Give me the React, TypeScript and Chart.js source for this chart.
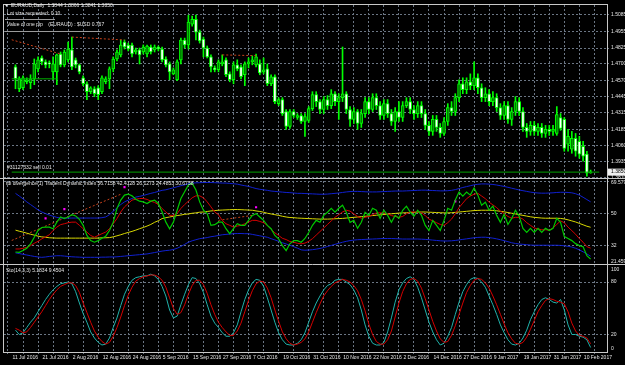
import React, { useEffect, useRef } from 'react';
import { Chart, registerables } from 'chart.js';

Chart.register(...registerables);

// ---------- tick labels ----------
const dateLabels = ['11 Jul 2016', '21 Jul 2016', '2 Aug 2016', '12 Aug 2016', '24 Aug 2016', '5 Sep 2016', '15 Sep 2016', '27 Sep 2016', '7 Oct 2016', '19 Oct 2016', '31 Oct 2016', '10 Nov 2016', '22 Nov 2016', '2 Dec 2016', '14 Dec 2016', '27 Dec 2016', '9 Jan 2017', '19 Jan 2017', '31 Jan 2017', '10 Feb 2017'];
const dateBars = [0, 8, 16, 24, 32, 40, 48, 56, 64, 72, 80, 88, 96, 104, 112, 120, 128, 136, 144, 152];
const priceTicks = [1.5085, 1.4955, 1.4825, 1.4700, 1.4570, 1.4445, 1.4315, 1.4185, 1.4060, 1.3935, 1.3810];
const tdiLevels = [68, 50, 32];
const stoLevels = [80, 20];

// ---------- EURAUD daily OHLC ----------
const opens = [
  1.4677, 1.4505, 1.4513, 1.4560, 1.4552, 1.4583, 1.4661, 1.4747, 1.4716, 1.4708,
  1.4638, 1.4638, 1.4778, 1.4693, 1.4732, 1.4810, 1.4732, 1.4693, 1.4591, 1.4544,
  1.4482, 1.4505, 1.4513, 1.4482, 1.4560, 1.4583, 1.4661, 1.4739, 1.4771, 1.4872,
  1.4849, 1.4849, 1.4794, 1.4810, 1.4794, 1.4778, 1.4833, 1.4810, 1.4833, 1.4817,
  1.4739, 1.4700, 1.4622, 1.4576, 1.4732, 1.4888, 1.4849, 1.5012, 1.5051, 1.4950,
  1.4895, 1.4825, 1.4755, 1.4669, 1.4654, 1.4700, 1.4732, 1.4622, 1.4576, 1.4693,
  1.4677, 1.4615, 1.4700, 1.4716, 1.4693, 1.4700, 1.4638, 1.4661, 1.4544, 1.4599,
  1.4388, 1.4420, 1.4326, 1.4209, 1.4326, 1.4279, 1.4295, 1.4248, 1.4256, 1.4349,
  1.4459, 1.4404, 1.4342, 1.4420, 1.4373, 1.4466, 1.4404, 1.4435, 1.4466, 1.4342,
  1.4264, 1.4326, 1.4232, 1.4310, 1.4404, 1.4342, 1.4435, 1.4373, 1.4295, 1.4388,
  1.4310, 1.4248, 1.4326, 1.4279, 1.4373, 1.4404, 1.4342, 1.4310, 1.4373, 1.4310,
  1.4217, 1.4170, 1.4264, 1.4201, 1.4154, 1.4248, 1.4357, 1.4326, 1.4435, 1.4544,
  1.4498, 1.4560, 1.4529, 1.4591, 1.4513, 1.4435, 1.4466, 1.4404, 1.4435, 1.4357,
  1.4295, 1.4373, 1.4264, 1.4326, 1.4404, 1.4326, 1.4201, 1.4170, 1.4217, 1.4170,
  1.4201, 1.4154, 1.4186, 1.4170, 1.4154, 1.4279, 1.4264, 1.4069, 1.4030, 1.4115,
  1.4092, 1.4053, 1.3991, 1.3844,
];
const highs = [
  1.4693, 1.4599, 1.4607, 1.4591, 1.4615, 1.4739, 1.4755, 1.4763, 1.4732, 1.4724,
  1.4755, 1.4778, 1.4794, 1.4810, 1.4872, 1.4911, 1.4747, 1.4700, 1.4607, 1.4560,
  1.4521, 1.4521, 1.4529, 1.4607, 1.4599, 1.4677, 1.4755, 1.4810, 1.4888, 1.4888,
  1.4864, 1.4864, 1.4825, 1.4825, 1.4849, 1.4849, 1.4849, 1.4849, 1.4841, 1.4833,
  1.4755, 1.4716, 1.4669, 1.4732, 1.4903, 1.4903, 1.5083, 1.5075, 1.5083, 1.4966,
  1.4911, 1.4841, 1.4771, 1.4685, 1.4732, 1.4771, 1.4747, 1.4638, 1.4716, 1.4732,
  1.4693, 1.4716, 1.4747, 1.4763, 1.4778, 1.4732, 1.4747, 1.4700, 1.4615, 1.4615,
  1.4435, 1.4435, 1.4342, 1.4342, 1.4342, 1.4310, 1.4310, 1.4310, 1.4365, 1.4482,
  1.4482, 1.4420, 1.4443, 1.4451, 1.4498, 1.4482, 1.4466, 1.4833, 1.4482, 1.4365,
  1.4357, 1.4342, 1.4342, 1.4435, 1.4435, 1.4466, 1.4466, 1.4404, 1.4420, 1.4420,
  1.4342, 1.4357, 1.4404, 1.4404, 1.4435, 1.4435, 1.4373, 1.4404, 1.4404, 1.4342,
  1.4248, 1.4295, 1.4295, 1.4232, 1.4279, 1.4388, 1.4404, 1.4466, 1.4576, 1.4591,
  1.4591, 1.4622, 1.4716, 1.4622, 1.4544, 1.4513, 1.4498, 1.4482, 1.4466, 1.4388,
  1.4404, 1.4404, 1.4357, 1.4443, 1.4435, 1.4357, 1.4232, 1.4248, 1.4248, 1.4232,
  1.4232, 1.4217, 1.4217, 1.4217, 1.4365, 1.4310, 1.4279, 1.4186, 1.4170, 1.4154,
  1.4131, 1.4092, 1.4014, 1.3866,
];
const lows = [
  1.4505, 1.4482, 1.4498, 1.4544, 1.4505, 1.4537, 1.4638, 1.4693, 1.4669, 1.4669,
  1.4576, 1.4537, 1.4677, 1.4677, 1.4716, 1.4654, 1.4669, 1.4622, 1.4529, 1.4420,
  1.4466, 1.4443, 1.4420, 1.4466, 1.4544, 1.4505, 1.4638, 1.4724, 1.4755, 1.4817,
  1.4802, 1.4755, 1.4778, 1.4700, 1.4778, 1.4755, 1.4778, 1.4794, 1.4802, 1.4716,
  1.4677, 1.4576, 1.4615, 1.4568, 1.4700, 1.4825, 1.4817, 1.4997, 1.4888, 1.4864,
  1.4755, 1.4747, 1.4638, 1.4638, 1.4638, 1.4685, 1.4599, 1.4560, 1.4544, 1.4646,
  1.4583, 1.4529, 1.4669, 1.4693, 1.4677, 1.4615, 1.4622, 1.4529, 1.4529, 1.4388,
  1.4373, 1.4295, 1.4186, 1.4193, 1.4279, 1.4264, 1.4232, 1.4131, 1.4240, 1.4334,
  1.4365, 1.4310, 1.4310, 1.4342, 1.4349, 1.4373, 1.4264, 1.4404, 1.4310, 1.4209,
  1.4232, 1.4186, 1.4201, 1.4279, 1.4310, 1.4326, 1.4342, 1.4264, 1.4264, 1.4279,
  1.4217, 1.4170, 1.4248, 1.4248, 1.4357, 1.4310, 1.4264, 1.4279, 1.4279, 1.4186,
  1.4139, 1.4139, 1.4170, 1.4123, 1.4139, 1.4217, 1.4295, 1.4295, 1.4404, 1.4466,
  1.4466, 1.4498, 1.4498, 1.4466, 1.4404, 1.4404, 1.4373, 1.4373, 1.4326, 1.4264,
  1.4264, 1.4232, 1.4217, 1.4295, 1.4295, 1.4170, 1.4123, 1.4139, 1.4139, 1.4139,
  1.4123, 1.4123, 1.4139, 1.4139, 1.4139, 1.4178, 1.4014, 1.4014, 1.3998, 1.3975,
  1.3959, 1.3936, 1.3819, 1.3841,
];
const closes = [
  1.4583, 1.4583, 1.4591, 1.4576, 1.4583, 1.4700, 1.4732, 1.4716, 1.4693, 1.4700,
  1.4700, 1.4771, 1.4693, 1.4794, 1.4817, 1.4677, 1.4693, 1.4638, 1.4544, 1.4482,
  1.4513, 1.4466, 1.4459, 1.4591, 1.4583, 1.4661, 1.4739, 1.4794, 1.4849, 1.4833,
  1.4817, 1.4778, 1.4810, 1.4771, 1.4833, 1.4841, 1.4794, 1.4833, 1.4817, 1.4732,
  1.4693, 1.4638, 1.4654, 1.4716, 1.4888, 1.4849, 1.5028, 1.5051, 1.4950, 1.4880,
  1.4825, 1.4755, 1.4677, 1.4654, 1.4716, 1.4716, 1.4615, 1.4576, 1.4693, 1.4661,
  1.4599, 1.4700, 1.4716, 1.4732, 1.4755, 1.4630, 1.4654, 1.4544, 1.4599, 1.4404,
  1.4420, 1.4310, 1.4209, 1.4326, 1.4295, 1.4295, 1.4248, 1.4287, 1.4349, 1.4459,
  1.4404, 1.4342, 1.4420, 1.4373, 1.4466, 1.4404, 1.4435, 1.4466, 1.4342, 1.4264,
  1.4326, 1.4232, 1.4310, 1.4404, 1.4342, 1.4435, 1.4373, 1.4295, 1.4388, 1.4310,
  1.4248, 1.4326, 1.4279, 1.4373, 1.4404, 1.4342, 1.4310, 1.4373, 1.4310, 1.4217,
  1.4170, 1.4264, 1.4201, 1.4154, 1.4248, 1.4357, 1.4326, 1.4435, 1.4544, 1.4498,
  1.4560, 1.4529, 1.4591, 1.4513, 1.4435, 1.4466, 1.4404, 1.4435, 1.4357, 1.4295,
  1.4373, 1.4264, 1.4326, 1.4404, 1.4326, 1.4201, 1.4170, 1.4217, 1.4170, 1.4201,
  1.4154, 1.4186, 1.4170, 1.4186, 1.4303, 1.4193, 1.4037, 1.4131, 1.4115, 1.4014,
  1.3991, 1.3975, 1.3842, 1.3850,
];

// ---------- Traders Dynamic Index ----------
const tdiUpper = [
  61.5, 60.0, 58.4, 56.7, 55.2, 53.7, 52.2, 51.0, 50.1, 49.3,
  48.6, 48.0, 47.6, 47.6, 47.6, 47.6, 47.6, 47.6, 47.6, 47.6,
  47.6, 47.6, 47.6, 47.8, 48.2, 49.5, 51.4, 53.3, 55.2, 56.7,
  57.7, 58.6, 59.4, 59.8, 60.3, 60.9, 61.5, 62.0, 62.6, 63.2,
  63.5, 64.1, 64.6, 65.2, 65.8, 66.3, 66.9, 67.3, 67.4, 67.5,
  67.6, 67.6, 67.6, 67.5, 67.4, 67.3, 67.3, 67.1, 66.9, 66.7,
  66.2, 65.8, 65.4, 64.8, 64.2, 63.8, 63.5, 63.2, 62.8, 62.6,
  62.4, 62.2, 62.0, 61.9, 61.7, 61.5, 61.5, 61.4, 61.3, 61.2,
  61.1, 61.0, 61.0, 61.1, 61.3, 61.5, 61.7, 62.0, 62.3, 62.5,
  62.6, 62.6, 62.5, 62.4, 62.3, 62.3, 62.3, 62.4, 62.5, 62.6,
  62.7, 62.8, 62.8, 62.8, 62.9, 63.0, 63.1, 63.2, 63.3, 63.3,
  63.2, 63.1, 63.0, 62.9, 62.9, 63.0, 63.2, 63.6, 64.2, 64.8,
  65.3, 65.8, 66.3, 66.6, 66.8, 66.8, 66.7, 66.5, 66.2, 65.8,
  65.4, 64.9, 64.4, 63.9, 63.4, 63.0, 62.6, 62.2, 61.9, 61.7,
  61.6, 61.6, 61.7, 61.8, 62.0, 62.1, 62.1, 62.0, 61.8, 61.3,
  60.5, 59.3, 58.0, 56.7158,
];
const tdiMid = [
  40.8, 40.2, 39.7, 39.1, 38.5, 38.0, 37.4, 37.0, 36.8, 36.5,
  36.4, 36.3, 36.3, 36.3, 36.3, 36.3, 36.3, 36.3, 36.3, 36.3,
  36.3, 36.3, 36.3, 36.5, 36.5, 36.6, 37.0, 37.6, 38.2, 38.9,
  39.5, 40.1, 40.8, 41.6, 42.3, 43.1, 44.0, 45.2, 46.1, 47.3,
  47.8, 48.2, 48.6, 49.0, 49.3, 49.7, 49.9, 50.3, 50.5, 50.9,
  51.0, 51.3, 51.6, 51.8, 52.0, 52.1, 52.2, 52.3, 52.4, 52.4,
  52.3, 52.2, 52.1, 52.0, 51.6, 51.3, 50.9, 50.3, 49.9, 49.5,
  49.1, 48.6, 48.2, 47.9, 47.8, 47.6, 47.5, 47.4, 47.3, 47.2,
  47.1, 47.0, 47.0, 47.0, 47.1, 47.2, 47.3, 47.4, 47.6, 47.8,
  48.0, 48.2, 48.4, 48.6, 48.8, 49.0, 49.2, 49.4, 49.6, 49.8,
  50.0, 50.2, 50.4, 50.5, 50.6, 50.7, 50.8, 50.9, 51.0, 51.0,
  50.9, 50.8, 50.7, 50.6, 50.5, 50.5, 50.6, 50.8, 51.0, 51.2,
  51.4, 51.6, 51.8, 51.9, 52.0, 52.0, 52.0, 51.9, 51.7, 51.4,
  51.1, 50.7, 50.3, 49.9, 49.5, 49.1, 48.7, 48.3, 48.0, 47.8,
  47.6, 47.5, 47.5, 47.5, 47.5, 47.4, 47.1, 46.6, 46.0, 45.4,
  44.6, 43.8, 43.0, 42.4128,
];
const tdiLower = [
  28.0, 27.6, 27.2, 26.8, 26.4, 26.0, 25.7, 25.5, 25.7, 26.0,
  26.2, 26.4, 26.4, 26.2, 26.0, 25.8, 25.7, 25.6, 25.5, 25.5,
  25.5, 25.5, 25.5, 25.6, 25.6, 25.7, 25.7, 25.8, 26.0, 26.2,
  26.4, 26.6, 26.8, 27.0, 27.2, 27.4, 27.8, 28.2, 28.6, 29.0,
  29.3, 29.5, 29.9, 30.6, 31.6, 32.8, 34.0, 34.8, 35.4, 36.0,
  36.3, 36.6, 37.1, 37.4, 37.8, 38.2, 38.4, 38.6, 38.8, 38.9,
  38.9, 38.8, 38.8, 38.4, 38.0, 37.6, 37.2, 36.8, 36.0, 35.3,
  34.5, 33.7, 33.0, 32.3, 31.5, 30.7, 29.7, 29.5, 29.6, 29.8,
  30.1, 30.5, 31.0, 31.6, 32.2, 32.8, 33.4, 34.0, 34.5, 34.9,
  35.2, 35.4, 35.5, 35.6, 35.7, 35.8, 35.9, 36.0, 36.1, 36.1,
  36.1, 36.0, 35.9, 35.8, 35.8, 35.8, 35.8, 35.8, 35.7, 35.6,
  35.4, 35.2, 35.0, 34.8, 34.7, 34.7, 34.8, 35.0, 35.3, 35.6,
  35.9, 36.2, 36.5, 36.7, 36.8, 36.8, 36.6, 36.3, 35.9, 35.4,
  34.9, 34.3, 33.7, 33.3, 33.0, 32.8, 32.6, 32.4, 32.3, 32.3,
  32.3, 32.3, 32.3, 32.3, 32.3, 32.2, 32.0, 31.7, 31.3, 30.6,
  29.7, 28.6, 27.4, 26.1273,
];
const tdiRsi = [
  28.5, 28.3, 29.3, 30.6, 33.1, 36.8, 40.6, 42.3, 42.5, 42.5,
  41.6, 45.3, 48.2, 47.3, 48.2, 49.5, 48.8, 46.9, 43.5, 37.8,
  34.9, 34.0, 34.9, 36.2, 37.4, 40.6, 45.3, 53.0, 57.7, 60.5,
  61.1, 60.1, 58.2, 57.1, 56.7, 55.8, 57.1, 57.7, 55.8, 51.0,
  45.3, 41.6, 45.3, 52.0, 58.6, 62.4, 66.2, 67.2, 63.4, 56.7,
  52.0, 50.1, 43.5, 43.9, 45.3, 45.3, 41.6, 38.8, 41.6, 44.4,
  43.5, 43.5, 46.3, 49.1, 50.1, 48.2, 46.3, 43.5, 41.6, 37.8,
  35.9, 32.1, 29.3, 33.1, 34.9, 34.9, 34.0, 36.1, 39.5, 43.5,
  46.3, 45.2, 49.1, 50.9, 53.1, 50.9, 53.1, 54.8, 50.9, 45.2,
  46.3, 41.8, 45.2, 50.9, 49.1, 53.1, 52.0, 47.4, 52.0, 49.1,
  45.2, 49.1, 47.4, 52.0, 54.3, 50.9, 48.6, 52.0, 49.1, 43.5,
  40.6, 46.3, 43.5, 40.6, 46.3, 53.1, 52.0, 57.7, 62.2, 59.9,
  62.2, 60.5, 64.5, 60.5, 54.8, 56.5, 52.0, 54.3, 49.1, 45.2,
  49.7, 44.0, 47.4, 52.0, 48.6, 41.8, 39.5, 41.8, 39.5, 41.8,
  39.5, 41.8, 40.6, 41.8, 47.4, 45.2, 37.2, 36.1, 34.9, 33.2,
  32.1, 31.5, 26.4, 24.4853,
];
const tdiSignal = [
  30.2, 30.2, 30.6, 31.1, 32.1, 33.4, 34.5, 35.9, 37.0, 38.2,
  40.6, 42.5, 43.9, 44.4, 45.0, 45.3, 45.3, 43.5, 41.6, 39.7,
  37.8, 36.8, 37.8, 38.8, 39.7, 41.6, 44.4, 47.3, 51.0, 53.9,
  55.8, 57.7, 58.2, 58.6, 58.6, 58.1, 57.1, 56.4, 55.2, 53.0,
  51.0, 49.1, 49.1, 50.1, 53.0, 55.2, 57.1, 59.0, 60.1, 60.1,
  59.0, 56.7, 53.9, 51.0, 49.5, 46.3, 44.4, 43.5, 42.5, 43.1,
  43.5, 44.4, 45.3, 46.3, 46.3, 45.7, 45.0, 43.5, 41.2, 39.3,
  37.8, 36.2, 35.5, 34.4, 34.0, 33.4, 33.1, 33.5, 34.5, 36.0,
  38.0, 40.0, 42.0, 44.0, 46.0, 48.0, 49.5, 51.0, 52.0, 51.5,
  50.0, 48.5, 47.5, 48.0, 48.5, 49.5, 50.5, 50.5, 50.5, 50.0,
  49.0, 48.5, 48.0, 48.5, 50.0, 51.0, 51.0, 51.0, 50.5, 49.0,
  47.0, 46.0, 45.0, 44.0, 43.5, 45.0, 47.0, 50.0, 53.5, 56.0,
  58.5, 60.0, 61.0, 61.5, 60.0, 58.5, 56.5, 55.0, 53.5, 51.5,
  50.0, 48.5, 47.5, 48.0, 48.0, 47.0, 45.0, 43.5, 42.0, 41.5,
  41.0, 41.0, 40.8, 42.0, 44.0, 46.0, 45.0, 42.5, 40.5, 38.5,
  36.0, 34.0, 31.5, 30.6738,
];

// ---------- Stochastic (14,3,3) ----------
const stoMain = [
  25, 20, 22, 28, 34, 39, 46, 53, 60, 66,
  71, 75, 78, 79, 80, 78, 69, 56, 44, 34,
  23, 16, 11, 8, 9, 16, 28, 39, 53, 66,
  75, 82, 85, 86, 87, 87, 89, 87, 83, 75,
  64, 48, 39, 41, 54, 66, 77, 85, 84, 78,
  68, 54, 41, 33, 28, 22, 18, 18, 22, 31,
  46, 60, 71, 79, 83, 82, 75, 62, 48, 34,
  22, 14, 9, 8, 8, 10, 14, 22, 34, 46,
  56, 64, 71, 76, 78, 82, 83, 83, 80, 77,
  71, 62, 48, 31, 18, 10, 8, 8, 11, 23,
  39, 57, 71, 79, 84, 86, 83, 74, 62, 48,
  34, 23, 14, 8, 10, 18, 28, 43, 57, 69,
  77, 83, 85, 84, 80, 74, 64, 54, 43, 31,
  22, 14, 9, 8, 10, 16, 25, 37, 46, 54,
  60, 62, 60, 57, 56, 60, 48, 31, 20, 20,
  18, 17, 14, 5.1834,
];
const stoSignal = [
  27, 25, 22, 23, 28, 34, 40, 46, 53, 60,
  66, 71, 75, 77, 79, 79, 76, 68, 56, 45,
  34, 24, 17, 12, 9, 11, 18, 28, 40, 53,
  65, 74, 81, 84, 86, 87, 88, 88, 86, 82,
  74, 62, 50, 43, 45, 54, 66, 76, 82, 82,
  77, 67, 54, 43, 34, 28, 23, 19, 19, 24,
  33, 46, 59, 70, 78, 81, 80, 73, 62, 48,
  35, 23, 15, 10, 8, 9, 11, 15, 23, 34,
  45, 55, 64, 70, 75, 79, 81, 83, 82, 80,
  76, 70, 60, 47, 32, 20, 12, 9, 9, 14,
  24, 40, 56, 69, 78, 83, 84, 81, 73, 61,
  48, 35, 24, 15, 11, 12, 19, 30, 43, 56,
  68, 76, 82, 84, 83, 79, 73, 64, 54, 43,
  32, 22, 15, 10, 9, 11, 17, 26, 36, 46,
  53, 59, 61, 60, 58, 57, 55, 46, 33, 24,
  19, 18, 16, 9.4504,
];

// ---------- drawn objects (bar index, value) ----------
const priceDivergences = [
  [-1, 1.4890, 12, 1.4778],
  [15, 1.4911, 29, 1.4888],
  [55, 1.4771, 64, 1.4765],
];
const tdiDivergences = [
  [-1, 35.0, 28, 61.0],
  [54, 46.3, 63, 49.1],
];
const tdiMarkBars = [8, 13, 29, 64, 117];
const tdiMarkValues = [47.4, 52.6, 65.0, 53.7, 57.0];
const supportLine = [-1, 1.4583, 11, 1.4583];
const orderPrice = 1.3850;

// ---------- text ----------
const symbolName = 'EURAUD,Daily';
const lotText = 'Lot size requested: 0.10';
const pipText = 'Value of one pip    (EURAUD) : $USD 0.767';
const orderText = '#31127332 sell 0.01';
const tdiName = 'tdi divergence(1) Traders Dynamic Index';
const stoName = 'Sto(14,3,3)';

const FONT = '"Liberation Sans", "DejaVu Sans", Arial, sans-serif';
const TEXT = '#e6e6e6';
const GRID = '#6b7684';
const FRAME = '#c8c8c8';
const LIME = '#00ff00';
const X_MIN = -1;
const X_MAX = 155.3;

const gridBars: number[] = [];
for (let b = 0; b <= dateBars[dateBars.length - 1]; b += 4) gridBars.push(b);

function pts(arr: number[]) {
  return arr.map((v, i) => ({ x: i, y: v }));
}
function seg(s: number[]) {
  return [{ x: s[0], y: s[1] }, { x: s[2], y: s[3] }];
}

const overlay = {
  id: 'mt4overlay',
  beforeDraw(chart: any) {
    const c = chart.ctx;
    c.save();
    c.fillStyle = '#000';
    c.fillRect(0, 0, chart.width, chart.height);
    c.restore();
  },
  afterDraw(chart: any) {
    const c = chart.ctx;
    const a = chart.chartArea;
    const sm = chart.scales.yMain;
    const st = chart.scales.yTdi;
    const ss = chart.scales.ySto;
    c.save();
    c.strokeStyle = FRAME;
    c.lineWidth = 1;
    c.strokeRect(Math.round(a.left) - 0.5, Math.round(a.top) - 0.5, Math.round(a.right - a.left) + 1, Math.round(a.bottom - a.top) + 1);
    for (const y of [st.top, ss.top]) {
      const yy = Math.round(y) - 0.5;
      c.beginPath();
      c.moveTo(0, yy);
      c.lineTo(chart.width, yy);
      c.stroke();
    }
    c.font = `5px ${FONT}`;
    c.fillStyle = TEXT;
    c.textBaseline = 'middle';
    c.textAlign = 'left';
    const n = closes.length - 1;
    const f4 = (v: number) => v.toFixed(4);
    c.fillText('\u25BC', 4, 6);
    c.fillText(`${symbolName}  ${f4(opens[n])} ${f4(highs[n])} ${f4(lows[n])} ${f4(closes[n])}`, 11, 6);
    c.fillText(lotText, 7, 14);
    c.fillText(pipText, 7, 25);
    c.strokeStyle = '#9a9a9a';
    c.beginPath();
    c.moveTo(5, 19.5); c.lineTo(55, 19.5);
    c.moveTo(5, 31.5); c.lineTo(100, 31.5);
    c.stroke();
    c.fillText(orderText, 7, sm.getPixelForValue(orderPrice) - 4);
    c.fillText(`${tdiName} ${f4(tdiUpper[n])} ${f4(tdiMid[n])} ${f4(tdiLower[n])} ${f4(tdiRsi[n])} ${f4(tdiSignal[n])}`, 6, st.top + 5);
    c.fillText(`${stoName} ${f4(stoMain[n])} ${f4(stoSignal[n])}`, 6, ss.top + 6);
    const lx = a.right + 4;
    c.fillText(st.max.toFixed(4), lx, st.top + 4);
    c.fillText(st.min.toFixed(4), lx, st.bottom - 3);
    c.fillText(String(ss.max), lx, ss.top + 5);
    c.fillText(String(ss.min), lx, ss.bottom - 3);
    const py = sm.getPixelForValue(closes[n]);
    c.fillStyle = '#f0f0f0';
    c.fillRect(a.right + 1, py - 3.5, chart.width - a.right - 1, 7);
    c.fillStyle = '#000';
    c.fillText(f4(closes[n]), lx, py);
    c.restore();
  },
};

export default function App() {
  const ref = useRef<HTMLCanvasElement>(null);
  useEffect(() => {
    const datasets: any[] = [];
    datasets.push({
      type: 'line', xAxisID: 'x', yAxisID: 'yMain', order: 0,
      data: [{ x: X_MIN, y: orderPrice }, { x: X_MAX, y: orderPrice }],
      borderColor: '#00a000', borderWidth: 1, pointRadius: 0,
    });
    datasets.push({
      type: 'line', xAxisID: 'x', yAxisID: 'yMain', order: 0,
      data: seg(supportLine), borderColor: '#00b000', borderWidth: 1, pointRadius: 0,
    });
    for (const d of priceDivergences) {
      datasets.push({
        type: 'line', xAxisID: 'x', yAxisID: 'yMain', order: 0,
        data: seg(d), borderColor: '#c8401a', borderWidth: 1, borderDash: [2, 2], pointRadius: 0,
      });
    }
    datasets.push({
      type: 'bar', xAxisID: 'x', yAxisID: 'yMain', order: 1, grouped: false,
      data: opens.map((o, i) => ({ x: i, y: [o, closes[i]] })),
      backgroundColor: opens.map((o, i) => (closes[i] >= o ? '#007a00' : '#ffffff')),
      borderColor: LIME, borderWidth: 1, borderSkipped: false, barThickness: 3, minBarLength: 1,
    });
    datasets.push({
      type: 'bar', xAxisID: 'x', yAxisID: 'yMain', order: 2, grouped: false,
      data: lows.map((l, i) => ({ x: i, y: [l, highs[i]] })),
      backgroundColor: LIME, borderWidth: 0, barThickness: 1,
    });
    const tdiLine = (arr: number[], color: string, w = 1) => ({
      type: 'line', xAxisID: 'x', yAxisID: 'yTdi', order: 0,
      data: pts(arr), borderColor: color, borderWidth: w, pointRadius: 0, tension: 0,
    });
    datasets.push(tdiLine(tdiRsi, '#00c800', 1.2));
    datasets.push(tdiLine(tdiSignal, '#d40000'));
    datasets.push(tdiLine(tdiMid, '#d8d800'));
    datasets.push(tdiLine(tdiUpper, '#1020d0'));
    datasets.push(tdiLine(tdiLower, '#1020d0'));
    for (const d of tdiDivergences) {
      datasets.push({
        type: 'line', xAxisID: 'x', yAxisID: 'yTdi', order: 0,
        data: seg(d), borderColor: '#c8401a', borderWidth: 1, borderDash: [2, 2], pointRadius: 0,
      });
    }
    datasets.push({
      type: 'scatter', xAxisID: 'x', yAxisID: 'yTdi', order: 0,
      data: tdiMarkBars.map((b, k) => ({ x: b, y: tdiMarkValues[k] })),
      pointStyle: 'rect', pointRadius: 1.5, backgroundColor: '#ff00ff', borderColor: '#ff00ff', borderWidth: 0, showLine: false,
    });
    datasets.push({
      type: 'line', xAxisID: 'x', yAxisID: 'ySto', order: 0,
      data: pts(stoSignal), borderColor: '#d40000', borderWidth: 1, pointRadius: 0,
    });
    datasets.push({
      type: 'line', xAxisID: 'x', yAxisID: 'ySto', order: 0,
      data: pts(stoMain), borderColor: '#20b2aa', borderWidth: 1, pointRadius: 0,
    });

    const tickFont = { size: 5, family: FONT };
    const yBase = (extra: any) => ({
      type: 'linear', position: 'right', stack: 'panes',
      afterFit: (s: any) => { s.width = 18; },
      border: { display: false, dash: [2, 2] },
      ...extra,
    });

    const chart = new Chart(ref.current as HTMLCanvasElement, {
      type: 'bar',
      data: { datasets },
      options: {
        responsive: false,
        animation: false,
        devicePixelRatio: 1,
        layout: { padding: { left: 2, top: 2, right: 0, bottom: 0 } },
        plugins: { legend: { display: false }, tooltip: { enabled: false } },
        scales: {
          x: {
            type: 'linear', position: 'bottom', min: X_MIN, max: X_MAX,
            afterBuildTicks: (s: any) => { s.ticks = gridBars.map((v) => ({ value: v })); },
            afterFit: (s: any) => { s.height = 13; },
            ticks: {
              autoSkip: false, maxRotation: 0, minRotation: 0, align: 'start', labelOffset: -3, padding: 1,
              color: TEXT, font: tickFont,
              callback: (v: any) => { const k = dateBars.indexOf(Number(v)); return k >= 0 ? dateLabels[k] : ''; },
            },
            grid: { color: GRID, lineWidth: 1, tickLength: 2, tickColor: GRID },
            border: { display: false, dash: [2, 2] },
          },
          yMain: yBase({
            stackWeight: 175, min: 1.3796, max: 1.5163,
            afterBuildTicks: (s: any) => { s.ticks = priceTicks.map((v) => ({ value: v })); },
            ticks: { color: TEXT, font: tickFont, padding: 2, callback: (v: any) => Number(v).toFixed(4) },
            grid: { color: GRID, lineWidth: 1, tickLength: 2, tickColor: GRID },
          }),
          yTdi: yBase({
            stackWeight: 86, min: 21.4594, max: 69.5795,
            afterBuildTicks: (s: any) => { s.ticks = tdiLevels.map((v) => ({ value: v })); },
            ticks: { color: TEXT, font: tickFont, padding: 2, callback: (v: any) => (Number(v) === 68 ? '' : String(v)) },
            grid: { color: GRID, lineWidth: 1, tickLength: 2, tickColor: GRID },
          }),
          ySto: yBase({
            stackWeight: 88, min: 0, max: 100,
            afterBuildTicks: (s: any) => { s.ticks = stoLevels.map((v) => ({ value: v })); },
            ticks: { color: TEXT, font: tickFont, padding: 2, callback: (v: any) => String(v) },
            grid: { color: GRID, lineWidth: 1, tickLength: 2, tickColor: GRID },
          }),
        },
      } as any,
      plugins: [overlay],
    } as any);
    return () => chart.destroy();
  }, []);
  return (
    <div style={{ position: 'fixed', left: 0, top: 0, width: 625, height: 365, background: '#000' }}>
      <canvas ref={ref} width={625} height={365} style={{ display: 'block', width: 625, height: 365 }} />
    </div>
  );
}
